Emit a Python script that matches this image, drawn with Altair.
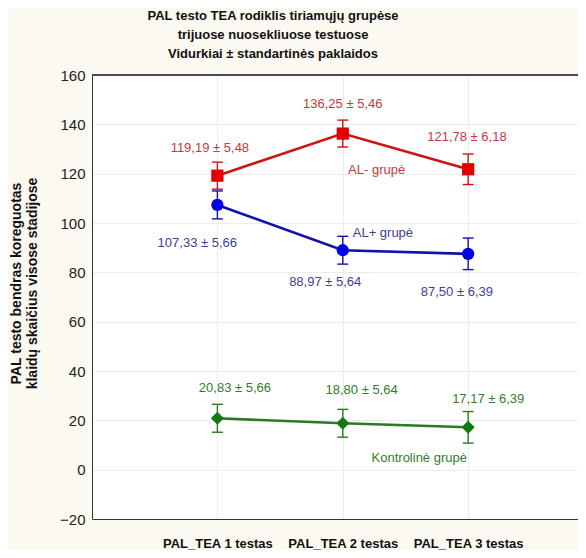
import json
import altair as alt
import pandas as pd

# ---- data ----
tests = ["PAL_TEA 1 testas", "PAL_TEA 2 testas", "PAL_TEA 3 testas"]
test_index = [1, 2, 3]
groups = ["AL- grupė", "AL+ grupė", "Kontrolinė grupė"]

al_minus_mean = [119.19, 136.25, 121.78]
al_minus_se = [5.48, 5.46, 6.18]
al_plus_mean = [107.33, 88.97, 87.50]
al_plus_se = [5.66, 5.64, 6.39]
control_mean = [20.83, 18.80, 17.17]
control_se = [5.66, 5.64, 6.39]

# annotation anchor points (x in test units, y in axis units)
al_minus_label_x = [0.94, 2.0, 2.99]
al_minus_label_y = [130.4, 148.2, 134.9]
al_plus_label_x = [0.84, 1.86, 2.91]
al_plus_label_y = [91.9, 76.1, 72.0]
control_label_x = [1.14, 2.15, 3.16]
control_label_y = [33.1, 32.3, 28.6]
group_label_x = [2.27, 2.32, 2.61]
group_label_y = [121.5, 96.0, 4.8]

# ---- styles ----
line_colors = ["#cc1414", "#1212a8", "#2a7a22"]
marker_colors = ["#e00000", "#0000e6", "#137a13"]
text_colors = ["#c23a3a", "#40409c", "#2f7d2a"]
shapes = ["square", "circle", "diamond"]
FONT = "Liberation Sans"
W, H = 486, 444


def fmt(v):
    return f"{v:.2f}".replace(".", ",")


series = [
    (al_minus_mean, al_minus_se, al_minus_label_x, al_minus_label_y),
    (al_plus_mean, al_plus_se, al_plus_label_x, al_plus_label_y),
    (control_mean, control_se, control_label_x, control_label_y),
]

xscale = alt.Scale(domain=[0, 3.876], nice=False, zero=False)
yscale = alt.Scale(domain=[-20, 160], nice=False)

x_axis = alt.Axis(
    values=test_index,
    labelExpr=f"{json.dumps(tests)}[datum.value - 1]",
    title=None,
    grid=True,
    ticks=False,
    labelFont=FONT,
    labelFontSize=13,
    labelFontWeight="bold",
    labelColor="#111111",
    labelPadding=18,
    domainColor="#333333",
    labelFlush=False,
)
y_axis = alt.Axis(
    values=list(range(-20, 161, 20)),
    title=["PAL testo bendras koreguotas", "klaidų skaičius visose stadijose"],
    titleFont=FONT,
    titleFontSize=14,
    titleFontWeight="bold",
    titleColor="#111111",
    titleAngle=-90,
    titleX=-69,
    titleY=208,
    titleAlign="center",
    titleBaseline="bottom",
    titleLineHeight=16,
    labelFont=FONT,
    labelFontSize=15,
    labelColor="#222222",
    labelPadding=7,
    ticks=False,
    grid=True,
    domainColor="#333333",
    labelFlush=False,
)


def X(field):
    return alt.X(field, scale=xscale, axis=x_axis)


def Y(field):
    return alt.Y(field, scale=yscale, axis=y_axis)


layers = []
for gi, (means, ses, lx, ly) in enumerate(series):
    df = pd.DataFrame({
        "x": test_index,
        "mean": means,
        "lo": [m - s for m, s in zip(means, ses)],
        "hi": [m + s for m, s in zip(means, ses)],
    })
    lab = pd.DataFrame({
        "x": lx,
        "y": ly,
        "t": [f"{fmt(m)} ± {fmt(s)}" for m, s in zip(means, ses)],
    })
    base = alt.Chart(df)
    layers.append(base.mark_line(strokeWidth=2.6, color=line_colors[gi]).encode(
        x=X("x:Q"), y=Y("mean:Q")))
    layers.append(base.mark_rule(strokeWidth=1.4, color=line_colors[gi]).encode(
        x=X("x:Q"), y=Y("lo:Q"), y2="hi:Q"))
    for col in ["lo", "hi"]:
        layers.append(base.mark_tick(orient="horizontal", size=11, thickness=1.4,
                                     color=line_colors[gi], opacity=1).encode(
            x=X("x:Q"), y=Y(f"{col}:Q")))
    layers.append(base.mark_point(shape=shapes[gi], filled=True, opacity=1,
                                  size=150 if shapes[gi] != "diamond" else 170,
                                  color=marker_colors[gi]).encode(
        x=X("x:Q"), y=Y("mean:Q")))
    layers.append(alt.Chart(lab).mark_text(font=FONT, fontSize=13, color=text_colors[gi],
                                           align="center", baseline="middle").encode(
        x=X("x:Q"), y=Y("y:Q"), text="t:N"))

glab = pd.DataFrame({"x": group_label_x, "y": group_label_y, "t": groups, "c": text_colors})
layers.append(alt.Chart(glab).mark_text(font=FONT, fontSize=13, align="center",
                                        baseline="middle").encode(
    x=X("x:Q"), y=Y("y:Q"), text="t:N",
    color=alt.Color("c:N", scale=None)))

# top frame line of the plot area
layers.append(alt.Chart(glab).mark_rule(color="#333333", strokeWidth=1).encode(
    x=alt.value(0), x2=alt.value(W), y=alt.value(0)))

chart = alt.layer(*layers).properties(
    width=W,
    height=H,
    title=alt.TitleParams(
        text=["PAL testo TEA rodiklis tiriamųjų grupėse",
              "trijuose nuosekliuose testuose",
              "Vidurkiai ± standartinės paklaidos"],
        anchor="middle",
        frame="group",
        dx=-62,
        offset=7,
        font=FONT,
        fontSize=13,
        fontWeight="bold",
        color="#111111",
        lineHeight=19,
    ),
    autosize=alt.AutoSizeParams(type="none"),
    padding={"left": 84, "top": 67, "right": 0, "bottom": 31},
    background="#fcf9f1",
).configure_view(
    fill="white", strokeWidth=0
).configure_axis(
    gridColor="#ececec", gridWidth=1
)

chart.save("out.html", embed_options={"renderer": "svg", "actions": False})
